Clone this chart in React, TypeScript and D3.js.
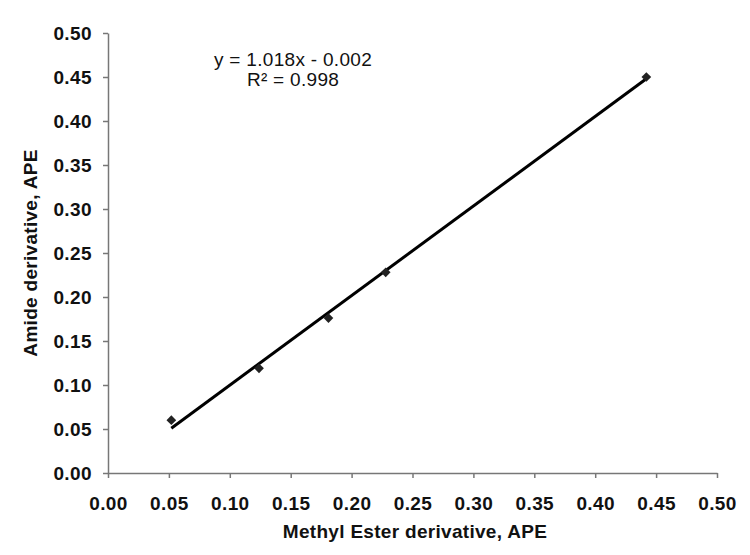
import { useEffect, useRef } from "react";
import * as d3 from "d3";

// values
const esterValues = [0.052, 0.124, 0.181, 0.228, 0.442];
const amideValues = [0.06, 0.119, 0.176, 0.228, 0.45];
const tickValues = [0, 0.05, 0.1, 0.15, 0.2, 0.25, 0.3, 0.35, 0.4, 0.45, 0.5];
const slope = 1.018;
const intercept = -0.002;
const equationLines = ["y = 1.018x - 0.002", "R\u00b2 = 0.998"];

const width = 750;
const height = 555;

export default function App() {
  const svgRef = useRef<SVGSVGElement>(null);

  useEffect(() => {
    const svg = d3.select(svgRef.current);
    svg.selectAll("*").remove();

    const margin = { top: 33, right: 33, bottom: 82, left: 108 };
    const font = "'Liberation Sans', Arial, sans-serif";

    const x = d3.scaleLinear().domain([0, 0.5]).range([margin.left, width - margin.right]);
    const y = d3.scaleLinear().domain([0, 0.5]).range([height - margin.bottom, margin.top]);

    svg.append("rect").attr("width", width).attr("height", height).attr("fill", "#fff");

    // Y axis
    const yAxis = svg
      .append("g")
      .attr("transform", `translate(${margin.left},0)`)
      .call(d3.axisLeft(y).tickValues(tickValues).tickFormat(d3.format(".2f")).tickSize(5).tickSizeOuter(0).tickPadding(11));

    // X axis
    const xAxis = svg
      .append("g")
      .attr("transform", `translate(0,${height - margin.bottom})`)
      .call(d3.axisBottom(x).tickValues(tickValues).tickFormat(d3.format(".2f")).tickSize(5).tickSizeOuter(0).tickPadding(19));

    [yAxis, xAxis].forEach(g => {
      g.select(".domain").attr("stroke", "#777").attr("stroke-width", 1.5);
      g.selectAll(".tick line").attr("stroke", "#777").attr("stroke-width", 1.5);
      g.selectAll(".tick text")
        .attr("fill", "#111")
        .style("font-family", font)
        .style("font-size", "19px")
        .style("font-weight", "bold")
        .style("letter-spacing", "0.4px");
    });

    // trendline
    const xMin = d3.min(esterValues) as number;
    const xMax = d3.max(esterValues) as number;
    svg
      .append("line")
      .attr("x1", x(xMin))
      .attr("y1", y(slope * xMin + intercept))
      .attr("x2", x(xMax))
      .attr("y2", y(slope * xMax + intercept))
      .attr("stroke", "#000")
      .attr("stroke-width", 3);

    // points
    const diamond = d3.symbol().type(d3.symbolDiamond2).size(60);
    svg
      .selectAll("path.pt")
      .data(esterValues)
      .enter()
      .append("path")
      .attr("class", "pt")
      .attr("d", diamond)
      .attr("transform", (d, i) => `translate(${x(d)},${y(amideValues[i])})`)
      .attr("fill", "#222");

    // equation
    svg
      .selectAll("text.eq")
      .data(equationLines)
      .enter()
      .append("text")
      .attr("class", "eq")
      .attr("x", 293)
      .attr("y", (d, i) => 66 + i * 20)
      .attr("text-anchor", "middle")
      .style("font-family", font)
      .style("font-size", "19px")
      .style("letter-spacing", "0.3px")
      .attr("fill", "#111")
      .text(d => d);

    // axis titles
    svg
      .append("text")
      .attr("x", 415)
      .attr("y", 538)
      .attr("text-anchor", "middle")
      .style("font-family", font)
      .style("font-size", "19px")
      .style("font-weight", "bold")
      .style("letter-spacing", "0.3px")
      .attr("fill", "#111")
      .text("Methyl Ester derivative, APE");

    svg
      .append("text")
      .attr("transform", `translate(37,${(margin.top + height - margin.bottom) / 2}) rotate(-90)`)
      .attr("text-anchor", "middle")
      .style("font-family", font)
      .style("font-size", "19px")
      .style("font-weight", "bold")
      .style("letter-spacing", "0.3px")
      .attr("fill", "#111")
      .text("Amide derivative, APE");
  }, []);

  return <svg ref={svgRef} width={width} height={height} style={{ position: "absolute", left: 0, top: 0 }} />;
}
